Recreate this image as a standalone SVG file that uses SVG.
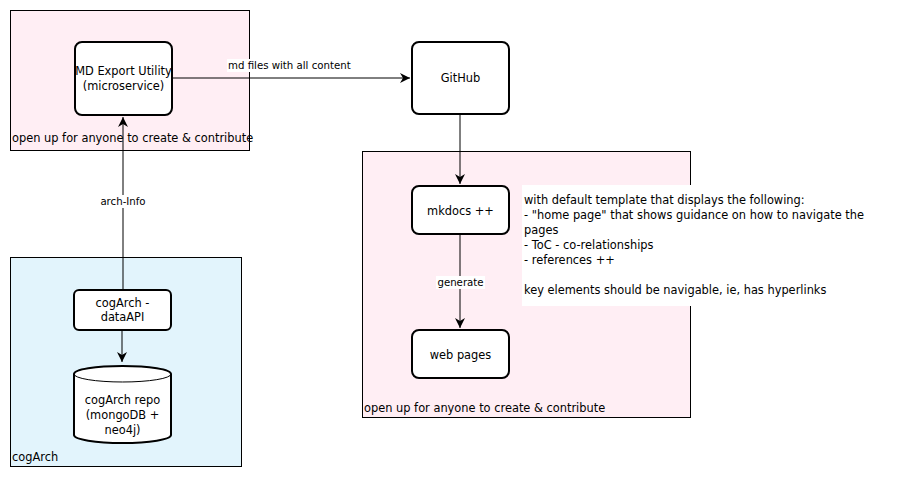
<svg xmlns="http://www.w3.org/2000/svg" width="902" height="477" viewBox="0 0 902 477">
<style>
text{font-family:"DejaVu Sans",sans-serif;font-size:11.4px;fill:#000}
.c{text-anchor:middle}
.lbl{font-size:10.2px}
.node{fill:#fff;stroke:#000;stroke-width:2}
.pink{fill:#FFEEF4;stroke:#000;stroke-width:1}
.blue{fill:#E2F4FC;stroke:#000;stroke-width:1}
.edge{fill:none;stroke:#000;stroke-width:1}
</style>
<defs>
<marker id="arr" markerWidth="12" markerHeight="10" refX="10" refY="5" orient="auto" markerUnits="userSpaceOnUse">
<path d="M0,0 L10,5 L0,10 L3,5 Z" fill="#000"/>
</marker>
</defs>
<rect width="902" height="477" fill="#fff"/>
<g id="group-export">
<rect class="pink" x="10.5" y="10.5" width="239" height="140"/>
<text x="12" y="142">open up for anyone to create &amp; contribute</text>
</g>
<g id="group-cogarch">
<rect class="blue" x="10.5" y="257.5" width="231" height="209"/>
<text x="12" y="461">cogArch</text>
</g>
<g id="group-site">
<rect class="pink" x="362.5" y="151.5" width="328" height="266"/>
<text x="364" y="412">open up for anyone to create &amp; contribute</text>
</g>
<g id="note">
<rect x="522" y="185" width="345" height="121" fill="#fff"/>
<text x="524" y="204">with default template that displays the following:</text>
<text x="524" y="219">- "home page" that shows guidance on how to navigate the</text>
<text x="524" y="234">pages</text>
<text x="524" y="249">- ToC - co-relationships</text>
<text x="524" y="264">- references ++</text>
<text x="524" y="294">key elements should be navigable, ie, has hyperlinks</text>
</g>
<g id="connectors">
<path class="edge" d="M172,78 H410" marker-end="url(#arr)"/>
<rect x="227" y="59" width="127" height="13" fill="#fff"/>
<text class="lbl" x="228" y="69">md files with all content</text>
<path class="edge" d="M123,290 V117" marker-end="url(#arr)"/>
<rect x="97" y="195" width="52" height="13" fill="#fff"/>
<text class="lbl c" x="123" y="205">arch-Info</text>
<path class="edge" d="M122,331 V362" marker-end="url(#arr)"/>
<path class="edge" d="M460,115 V184" marker-end="url(#arr)"/>
<path class="edge" d="M460,235 V328" marker-end="url(#arr)"/>
<rect x="436" y="276" width="49" height="13" fill="#fff"/>
<text class="lbl c" x="460.5" y="286">generate</text>
</g>
<g id="md-export">
<rect class="node" x="75" y="42" width="97" height="73" rx="7"/>
<text class="c" x="123.5" y="75">MD Export Utility</text>
<text class="c" x="123.5" y="90">(microservice)</text>
</g>
<g id="github">
<rect class="node" x="412" y="42" width="97" height="72" rx="7"/>
<text class="c" x="460.5" y="82">GitHub</text>
</g>
<g id="dataapi">
<rect class="node" x="74" y="290" width="97" height="40" rx="5"/>
<text class="c" x="122.5" y="307">cogArch -</text>
<text class="c" x="122.5" y="321">dataAPI</text>
</g>
<g id="repo">
<path class="node" d="M74,374 A48.5,8 0 0 1 171,374 V435 A48.5,8 0 0 1 74,435 Z"/>
<path class="edge" stroke-width="2" d="M74,374 A48.5,8 0 0 0 171,374"/>
<text class="c" x="122.5" y="404">cogArch repo</text>
<text class="c" x="122.5" y="419">(mongoDB +</text>
<text class="c" x="122.5" y="434">neo4j)</text>
</g>
<g id="mkdocs">
<rect class="node" x="412" y="186" width="97" height="48" rx="7"/>
<text class="c" x="460.5" y="215">mkdocs ++</text>
</g>
<g id="webpages">
<rect class="node" x="412" y="330" width="97" height="48" rx="7"/>
<text class="c" x="460.5" y="359">web pages</text>
</g>
</svg>
